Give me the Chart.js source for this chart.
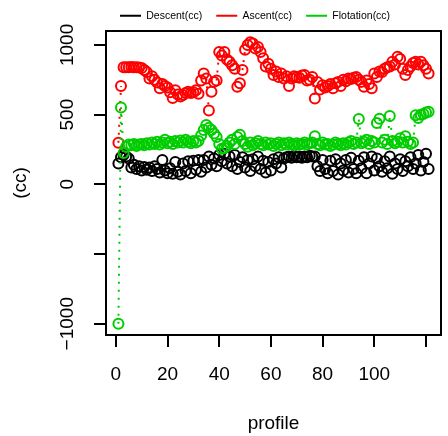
<!DOCTYPE html>
<html>
<head>
<meta charset="utf-8">
<script src="https://cdn.jsdelivr.net/npm/chart.js@4.4.0/dist/chart.umd.min.js"></script>
<style>
  html, body { margin: 0; padding: 0; background: #fff; }
  canvas { display: block; }
</style>
</head>
<body>
<canvas id="chart" width="448" height="436"></canvas>
<script>
const profiles = Array.from({ length: 121 }, (_, i) => i + 1);

const descent = [
  150, 195, 210, 200, 185, 120, 140, 110, 130, 100,
  125, 105, 120, 95, 130, 110, 85, 175, 100, 80,
  115, 75, 160, 90, 70, 150, 95, 165, 80, 170,
  105, 175, 90, 175, 120, 200, 140, 185, 130, 210,
  165, 220, 150, 200, 130, 210, 110, 160, 195, 120,
  175, 95, 180, 130, 200, 110, 170, 85, 160, 100,
  180, 150, 195, 120, 185, 195, 200, 190, 205, 195,
  200, 190, 200, 195, 205, 200, 200, 130, 95, 175,
  110, 80, 170, 95, 180, 70, 150, 100, 175, 85,
  190, 110, 80, 170, 115, 195, 80, 150, 200, 100,
  185, 130, 90, 165, 115, 200, 75, 150, 110, 180,
  95, 165, 130, 195, 110, 150, 210, 100, 160, 220,
  110
];

const ascent = [
  298, 705, 840, 840, 840, 842, 840, 840, 838, 835,
  820, 805, 760, 775, 750, 730, 690, 720, 705, 695,
  660, 620, 675, 645, 630, 640, 655, 665, 655, 660,
  675, 650, 745, 795, 760, 530, 665, 735, 745, 950,
  925, 950, 895, 880, 855, 830, 700, 725, 820, 965,
  1000, 1019, 1010, 975, 985, 950, 905, 845, 865, 830,
  785, 810, 770, 795, 760, 775, 705, 760, 775, 770,
  765, 780, 785, 745, 750, 770, 615, 735, 680, 710,
  695, 705, 720, 690, 725, 735, 705, 750, 740, 760,
  755, 765, 770, 750, 735, 700, 745, 720, 690, 795,
  770, 810, 805, 830, 840, 845, 880, 860, 915, 900,
  830, 785, 820, 845, 870, 880, 860, 880, 855, 830,
  795
];

const flotation = [
  -1000, 552, 225, 270, 285, 280, 290, 275, 285, 290,
  280, 295, 285, 300, 290, 305, 285, 300, 320, 295,
  305, 290, 310, 300, 315, 300, 320, 305, 295, 310,
  300, 310, 350, 390, 425, 405, 390, 365, 340, 290,
  255, 260, 275, 300, 320, 290, 340, 355, 310, 290,
  270, 300, 280, 295, 310, 290, 280, 300, 285, 295,
  275, 290, 300, 280, 295, 285, 300, 290, 280, 295,
  285, 290, 300, 285, 295, 300, 345, 290, 280, 300,
  285, 290, 275, 285, 300, 290, 280, 295, 285, 300,
  310, 290, 300, 468, 295, 305, 320, 290, 310, 300,
  440, 470, 300, 320, 290, 490, 310, 295, 305, 330,
  300, 345, 305, 290, 300, 495, 475, 500, 505, 515,
  520
];

const xTicks = [0, 20, 40, 60, 80, 100, 120];
const xTickLabels = ['0', '20', '40', '60', '80', '100', ''];
const yTicks = [-1000, -500, 0, 500, 1000];
const yTickLabels = ['\u22121000', '', '0', '500', '1000'];

Chart.defaults.font.family = '"Liberation Sans", Arial, sans-serif';
Chart.defaults.color = '#000';

function toPoints(values) {
  return values.map((v, i) => ({ x: profiles[i], y: v }));
}

// like R type="b": short links stay hidden behind the circles
function gapColor(color) {
  return ctx => Math.hypot(ctx.p1.x - ctx.p0.x, ctx.p1.y - ctx.p0.y) < 20 ? 'transparent' : color;
}

function series(label, values, color, order) {
  return {
    label,
    data: toPoints(values),
    order,
    showLine: true,
    borderColor: color,
    backgroundColor: 'transparent',
    borderWidth: 2,
    pointStyle: 'circle',
    pointRadius: 5,
    pointBorderWidth: 2,
    pointBorderColor: color,
    pointBackgroundColor: 'transparent',
    segment: { borderColor: gapColor(color), borderDash: () => [2, 6] }
  };
}

const boxPlugin = {
  id: 'box',
  afterDraw(chart) {
    const { ctx, chartArea: a } = chart;
    ctx.save();
    ctx.strokeStyle = '#000';
    ctx.lineWidth = 2;
    ctx.strokeRect(a.left, a.top, a.right - a.left, a.bottom - a.top);
    ctx.restore();
  }
};

const axisGrid = { drawOnChartArea: false, drawTicks: true, tickLength: 12, color: '#000', lineWidth: 2 };

new Chart(document.getElementById('chart'), {
  type: 'scatter',
  data: {
    datasets: [
      series('Descent(cc)', descent, '#000000', 3),
      series('Ascent(cc)', ascent, '#FF0000', 2),
      series('Flotation(cc)', flotation, '#00CD00', 1)
    ]
  },
  options: {
    responsive: false,
    animation: false,
    layout: { padding: { top: -3.5, left: 0, right: 2, bottom: 0 } },
    plugins: {
      tooltip: { enabled: false },
      legend: {
        position: 'top',
        fullSize: false,
        align: 'start',
        labels: {
          usePointStyle: true,
          pointStyle: 'line',
          pointStyleWidth: 21,
          padding: 14,
          font: { size: 10.5 },
          color: '#000',
          sort: (a, b) => a.datasetIndex - b.datasetIndex
        }
      }
    },
    scales: {
      x: {
        type: 'linear',
        min: -3.8,
        max: 125.8,
        afterBuildTicks: s => { s.ticks = xTicks.map(v => ({ value: v })); },
        afterFit: s => { s.height = 101; },
        grid: axisGrid,
        border: { display: false },
        ticks: {
          callback: (v, i) => xTickLabels[i],
          font: { size: 19 },
          color: '#000',
          padding: 16,
          autoSkip: false,
          maxRotation: 0
        },
        title: { display: true, text: 'profile', font: { size: 19 }, color: '#000', padding: { top: 0, bottom: 1 } }
      },
      y: {
        type: 'linear',
        min: -1081,
        max: 1100,
        afterBuildTicks: s => { s.ticks = yTicks.map(v => ({ value: v })); },
        afterFit: s => { s.width = 106; },
        grid: axisGrid,
        border: { display: false },
        ticks: {
          callback: (v, i) => yTickLabels[i],
          font: { size: 19 },
          color: '#000',
          padding: 0,
          autoSkip: false,
          minRotation: 90,
          maxRotation: 90,
          crossAlign: 'center'
        },
        title: { display: true, text: '(cc)', font: { size: 19 }, color: '#000', padding: { top: 9, bottom: 0 } }
      }
    }
  },
  plugins: [boxPlugin]
});
</script>
</body>
</html>
